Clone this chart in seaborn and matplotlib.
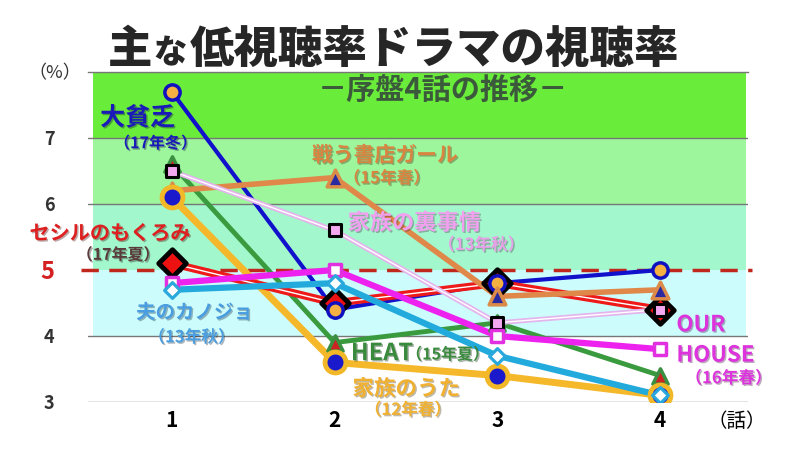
import matplotlib
matplotlib.use('Agg')
import matplotlib.pyplot as plt
import matplotlib.patheffects as pe
import seaborn as sns

# 各ドラマの序盤4話の視聴率（%）
episodes = [1, 2, 3, 4]
uta = [6.1, 3.6, 3.4, 3.1]          # 家族のうた（12年春）
heat = [6.6, 3.9, 4.2, 3.4]         # HEAT（15年夏）
binbou = [7.7, 4.4, 4.8, 5.0]       # 大貧乏（17年冬）
cecil = [5.1, 4.5, 4.8, 4.4]        # セシルのもくろみ（17年夏）
shoten = [6.2, 6.4, 4.6, 4.7]       # 戦う書店ガール（15年春）
uraji = [6.5, 5.6, 4.2, 4.4]        # 家族の裏事情（13年秋）
our_house = [4.8, 5.0, 4.0, 3.8]    # OUR HOUSE（16年春）
kanojo = [4.7, 4.8, 3.7, 3.1]       # 夫のカノジョ（13年秋）

yticks = [3, 4, 5, 6, 7]
xticks = [1, 2, 3, 4]

sns.set_style('white')
plt.rcParams['font.family'] = ['Noto Sans CJK JP', 'DejaVu Sans']

fig = plt.figure(figsize=(8, 4.5), dpi=100)
ax = fig.add_axes([0.11, 0.1067, 0.825, 0.7333])

# 背景の帯
ax.axhspan(7, 8, xmin=0.007, xmax=0.997, color='#6aed3a', zorder=0, lw=0)
ax.axhspan(6, 7, xmin=0.007, xmax=0.997, color='#9df59c', zorder=0, lw=0)
ax.axhspan(5, 6, xmin=0.007, xmax=0.997, color='#a2f7cc', zorder=0, lw=0)
ax.axhspan(4, 5, xmin=0.007, xmax=0.997, color='#cdfcfc', zorder=0, lw=0)

# (data, line color, lw, double line, line z, marker, ms, face, edge, ew, marker z)
styles = [
    (uta, '#f5b82a', 5, False, 3, 'o', 15, '#1a1acc', '#f2b828', 3.5, 24),
    (heat, '#3a9a3e', 3.5, False, 4, '^', 11, '#cc2222', '#3a9040', 2.5, 20),
    (binbou, '#1111cc', 3, False, 5, 'o', 11, '#f5b041', '#1010c0', 2.5, 22),
    (cecil, '#ee1a1a', 5.5, True, 6, 'D', 14, '#ee1111', 'black', 3.5, 21),
    (shoten, '#e0884a', 4, False, 7, '^', 12, '#2a2aa0', '#dc8a48', 2.5, 23),
    (uraji, '#e4b4ec', 3.5, True, 8, 's', 9, '#f4a8f0', 'black', 2.2, 25),
    (our_house, '#ee22ee', 4.5, False, 9, 's', 9, 'white', '#e030e0', 2.5, 26),
    (kanojo, '#22aadd', 4.5, False, 10, 'D', 8, 'white', '#2aa8dc', 2.3, 27),
]

for vals, c, lw, double, lz, m, ms, fc, ec, ew, mz in styles:
    sns.lineplot(x=episodes, y=vals, ax=ax, color=c, lw=lw, zorder=lz,
                 legend=False, sort=False)
    if double:
        sns.lineplot(x=episodes, y=vals, ax=ax, color='white', lw=1.0,
                     zorder=lz, legend=False, sort=False)
    sns.scatterplot(x=episodes, y=vals, ax=ax, marker=m, s=ms ** 2,
                    color=fc, edgecolor=ec, linewidth=ew, zorder=mz,
                    legend=False)

ax.set_xlim(0.485, 4.54)
ax.set_ylim(3, 8)
ax.set_xticks(xticks)
ax.set_yticks(yticks)
ax.set_xlabel('')
ax.set_ylabel('')

ax.grid(axis='y', color='#777777', lw=1)
for val, gl in zip(yticks, ax.get_ygridlines()):
    if val == 5:
        gl.set_visible(False)
ax.axhline(5, xmin=-0.01, xmax=1.006, color='#c0281e', lw=2.5,
           dashes=(5, 3), zorder=2, clip_on=False)

for s in ['left', 'right', 'bottom']:
    ax.spines[s].set_visible(False)
ax.spines['top'].set_color('#777777')
ax.spines['top'].set_linewidth(1)

ax.tick_params(axis='y', length=0, pad=24)
ax.tick_params(axis='x', length=0, pad=6)
for lab in ax.get_yticklabels():
    lab.set_fontweight('bold')
    if lab.get_text() == '5':
        lab.set_color('#d42020')
        lab.set_fontsize(17)
    else:
        lab.set_color('#333333')
        lab.set_fontsize(13)
for lab in ax.get_xticklabels():
    lab.set_fontweight('bold')
    lab.set_fontsize(15)
    lab.set_color('black')

shadow = [pe.withSimplePatchShadow(offset=(1, -1), alpha=0.35)]


def label(x, y, s, color, size, ha='center'):
    ax.text(x, y, s, color=color, fontsize=size, fontweight='bold', ha=ha,
            va='center', zorder=40, path_effects=shadow)


label(0.79, 7.30, '大貧乏', '#1a1ab8', 18)
label(0.90, 6.92, '（17年冬）', '#1a1ab8', 11.5)
label(0.62, 5.56, 'セシルのもくろみ', '#dd1f1f', 14.5)
label(0.67, 5.23, '（17年夏）', '#5a3a3a', 11.5)
label(1.14, 4.35, '夫のカノジョ', '#4a9ee0', 14)
label(1.12, 3.98, '（13年秋）', '#4a9ee0', 12)
label(2.31, 6.74, '戦う書店ガール', '#d98440', 15)
label(2.32, 6.39, '（15年春）', '#d98440', 12)
label(2.49, 5.71, '家族の裏事情', '#f0a0ee', 16)
label(2.90, 5.38, '（13年秋）', '#e8a0e8', 12)
label(2.10, 3.74, 'HEAT', '#3a8a3e', 17, ha='left')
label(2.44, 3.72, '（15年夏）', '#3a8a3e', 11.5, ha='left')
label(2.44, 3.20, '家族のうた', '#f0b030', 15.5)
label(2.45, 2.88, '（12年春）', '#f0b030', 12)
label(4.10, 4.17, 'OUR', '#dd33dd', 16, ha='left')
label(4.10, 3.71, 'HOUSE', '#dd33dd', 16, ha='left')
label(4.42, 3.36, '（16年春）', '#dd33dd', 12)
ax.text(4.47, 2.70, '（話）', color='black', fontsize=14, ha='center',
        va='center', clip_on=False)

fig.text(0.069, 0.838, '（%）', color='#333333', fontsize=13, ha='center',
         va='center')

# タイトル
fig.text(108 / 800, 0.86, '主', fontsize=32, fontweight='heavy',
         ha='left', va='baseline')
fig.text(153 / 800, 0.86, 'な', fontsize=24, fontweight='heavy',
         ha='left', va='baseline')
fig.text(190 / 800, 0.86, '低視聴率ドラマの視聴率', fontsize=32,
         fontweight='heavy', ha='left', va='baseline')
fig.text(0.553, 0.80, '－序盤4話の推移－', color='#3b593b', fontsize=21,
         fontweight='bold', ha='center', va='center')

fig.savefig('out.png', dpi=100)
